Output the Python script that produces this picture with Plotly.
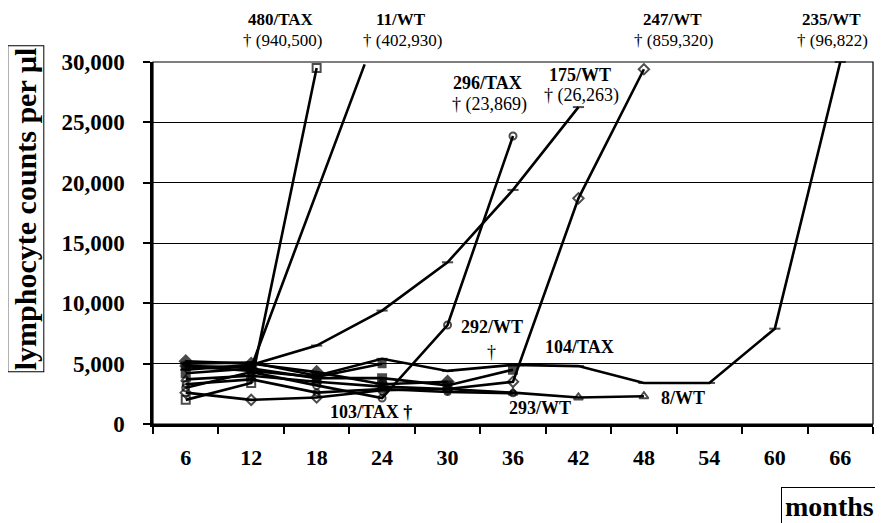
import plotly.graph_objects as go

# ---- data (months, lymphocyte counts per µl) ----
x_480_tax = [6, 12, 18]
y_480_tax = [2000, 3400, 29500]

x_11_wt = [6, 12, 22.4]
y_11_wt = [4800, 4700, 29800]

x_175_wt = [6, 12, 18, 24, 30, 36, 42]
y_175_wt = [4500, 4900, 6500, 9400, 13400, 19400, 26263]

x_296_tax = [6, 12, 18, 24, 30, 36]
y_296_tax = [3000, 4300, 3200, 2150, 8200, 23869]

x_247_wt = [6, 12, 18, 24, 30, 36, 42, 48]
y_247_wt = [2600, 2000, 2200, 2800, 2900, 3500, 18700, 29400]

x_235_wt = [6, 12, 18, 24, 30, 36, 42, 48, 54, 60, 66]
y_235_wt = [5000, 5100, 4000, 5400, 4400, 4900, 4800, 3400, 3400, 7900, 30000]

x_104_tax = [6, 12, 18, 24, 30, 36]
y_104_tax = [4200, 4600, 3800, 3800, 3200, 4500]

x_8_wt = [6, 12, 18, 24, 30, 36, 42, 48]
y_8_wt = [3700, 4000, 3500, 3100, 2900, 2600, 2200, 2300]

x_293_wt = [6, 12, 18, 24, 30, 36]
y_293_wt = [3300, 3700, 2600, 2900, 2650, 2550]

x_292_wt = [6, 12, 18, 24, 30]
y_292_wt = [5200, 5000, 4300, 3300, 3500]

x_103_tax = [6, 12, 18, 24]
y_103_tax = [4800, 4400, 3900, 5000]

month_ticks = [6, 12, 18, 24, 30, 36, 42, 48, 54, 60, 66]
month_bounds = [3, 9, 15, 21, 27, 33, 39, 45, 51, 57, 63, 69]
y_ticks = [0, 5000, 10000, 15000, 20000, 25000, 30000]

series = [
    (x_480_tax, y_480_tax, "square-open", 8),
    (x_11_wt, y_11_wt, "diamond", 8),
    (x_175_wt, y_175_wt, "line-ew", 8),
    (x_296_tax, y_296_tax, "circle-open", 7),
    (x_247_wt, y_247_wt, "diamond-open", 8),
    (x_235_wt, y_235_wt, "line-ew", 8),
    (x_104_tax, y_104_tax, "square", 8),
    (x_8_wt, y_8_wt, "triangle-up-open", 8),
    (x_293_wt, y_293_wt, "circle-open", 6),
    (x_292_wt, y_292_wt, "diamond", 9),
    (x_103_tax, y_103_tax, "square", 7),
]

fig = go.Figure()
for xs, ys, sym, sz in series:
    sizes = [sz] * len(xs)
    if xs is x_11_wt:
        sizes[-1] = 0
    fig.add_trace(go.Scatter(
        x=xs, y=ys, mode="lines+markers",
        line=dict(color="black", width=2.6),
        marker=dict(symbol=sym, size=sizes, color="black",
                    line=dict(color="black", width=2)),
        cliponaxis=False, showlegend=False, hoverinfo="skip"))

serif = "Liberation Serif"
bold = dict(family=serif, size=18, color="black", weight="bold")
norm = dict(family=serif, size=18, color="black")
bold_s = dict(family=serif, size=17, color="black", weight="bold")
norm_s = dict(family=serif, size=17, color="black")

# labels above the plot area (paper y)
top_annos = [
    (14.7, 1.117, "480/TAX", bold_s), (14.9, 1.060, "† (940,500)", norm_s),
    (25.7, 1.117, "11/WT", bold_s), (25.9, 1.060, "† (402,930)", norm_s),
    (50.6, 1.117, "247/WT", bold_s), (50.7, 1.060, "† (859,320)", norm_s),
    (65.2, 1.117, "235/WT", bold_s), (65.3, 1.060, "† (96,822)", norm_s),
]
for ax, ay, txt, f in top_annos:
    fig.add_annotation(x=ax, y=ay, text=txt, showarrow=False, font=f,
                       xref="x", yref="paper", xanchor="center", yanchor="middle")

annos = [
    (33.7, 28250, "296/TAX", bold), (33.8, 26450, "† (23,869)", norm),
    (42.1, 28900, "175/WT", bold), (42.3, 27250, "† (26,263)", norm),
    (34.1, 8000, "292/WT", bold), (34.0, 5950, "†", norm),
    (42.1, 6400, "104/TAX", bold),
    (23.0, 1000, "103/TAX †", bold),
    (38.5, 1300, "293/WT", bold),
    (51.6, 2150, "8/WT", bold),
]
for ax, ay, txt, f in annos:
    fig.add_annotation(x=ax, y=ay, text=txt, showarrow=False, font=f,
                       xref="x", yref="y")

# axis titles in boxes
fig.add_annotation(xref="paper", yref="paper", x=-0.176, y=0.594,
                   xanchor="center", yanchor="middle",
                   text="lymphocyte counts per µl", textangle=-90,
                   showarrow=False, bordercolor="black", borderwidth=1,
                   borderpad=1,
                   font=dict(family=serif, size=30, color="black", weight="bold"))
fig.add_annotation(xref="paper", yref="paper", x=0.94, y=-0.228,
                   xanchor="center", yanchor="middle", text="months",
                   showarrow=False, bordercolor="black", borderwidth=1,
                   borderpad=3,
                   font=dict(family=serif, size=28, color="black", weight="bold"))

# thin plot border (right / top)
fig.add_shape(type="rect", xref="paper", yref="paper", x0=0, y0=0, x1=1, y1=1,
              line=dict(color="black", width=1.2))

fig.update_layout(
    width=875, height=515,
    margin=dict(l=145, r=10, t=54, b=99),
    paper_bgcolor="white", plot_bgcolor="white",
    xaxis=dict(range=[3, 69], tickvals=month_ticks, ticks="",
               showgrid=False, zeroline=False,
               showline=True, linecolor="black", linewidth=2.5,
               tickfont=dict(family=serif, size=22, color="black", weight="bold"),
               ticklabelstandoff=12,
               minor=dict(tickvals=month_bounds, ticks="outside", ticklen=7,
                          tickwidth=2, tickcolor="black", showgrid=False)),
    yaxis=dict(range=[0, 30000], tickvals=y_ticks, tickformat=",",
               ticks="outside", ticklen=7, tickwidth=2, tickcolor="black",
               showgrid=True, gridcolor="black", gridwidth=1,
               zeroline=False, showline=True, linecolor="black", linewidth=2.5,
               ticklabelstandoff=14,
               tickfont=dict(family=serif, size=23, color="black", weight="bold")),
)

fig.write_html("out.html")
